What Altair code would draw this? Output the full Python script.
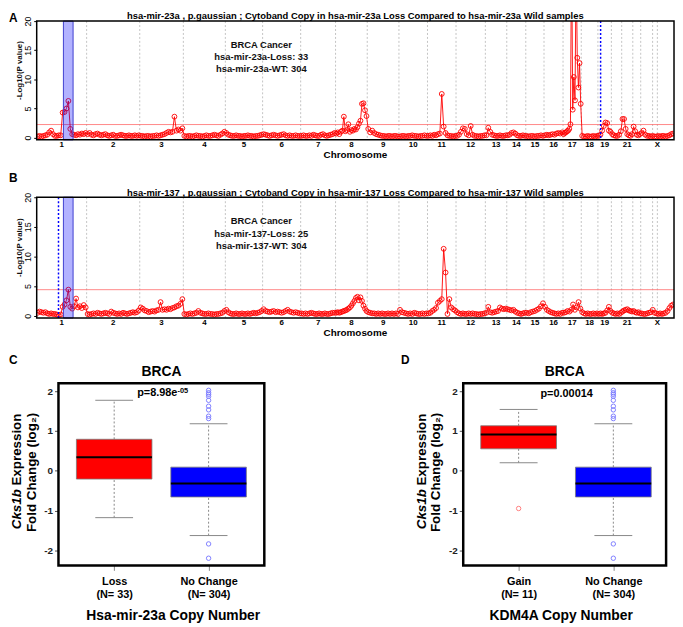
import json
import altair as alt
import pandas as pd

FONT = "Liberation Sans"

# ---------------- genome layout (cytoband index units) ----------------
chrom_names = ["1", "2", "3", "4", "5", "6", "7", "8", "9", "10", "11", "12",
               "13", "14", "15", "16", "17", "18", "19", "20", "21", "22", "X"]
chrom_sizes = [63, 67, 55, 53, 47, 48, 44, 40, 40, 36, 36, 37,
               27, 24, 23, 24, 23, 21, 17, 13, 14, 10, 42]
shown_chroms = [str(i) for i in range(1, 20)] + ["21", "X"]
extra_boundaries = [777, 783]

# ---------------- panel A: -log10(p) per cytoband, by chromosome ----------------
a_1 = [0.2, 0.3, 0.2, 0.3, 0.4, 0.5, 0.9, 1.2, 0.6, 0.3, 0.3, 0.4, 0.4, 4.3, 4.4, 5.0, 6.3, 1.5, 0.6, 0.5, 0.4, 0.6, 0.5, 0.7, 0.6, 0.8]
a_2 = [0.6, 0.8, 0.5, 0.4, 0.6, 0.7, 0.5, 0.4, 0.5, 0.6, 0.4, 0.3, 0.4, 0.5, 0.3, 0.3, 0.4, 0.5, 0.4, 0.3, 0.3, 0.4, 0.3, 0.3, 0.4, 0.3, 0.4]
a_3 = [0.3, 0.3, 0.2, 0.3, 0.3, 0.2, 0.3, 0.3, 0.4, 0.3, 0.4, 0.5, 0.6, 0.8, 1.0, 0.9, 1.0, 3.6, 1.2, 1.4, 1.2, 1.6]
a_4 = [0.3, 0.2, 0.3, 0.3, 0.2, 0.3, 0.4, 0.3, 0.3, 0.2, 0.3, 0.4, 0.3, 0.3, 0.4, 0.5, 0.4, 0.3, 0.5, 0.7, 1.0]
a_5 = [0.8, 0.5, 0.4, 0.3, 0.3, 0.4, 0.3, 0.3, 0.2, 0.3, 0.3, 0.4, 0.3, 0.3, 0.2, 0.3, 0.3, 0.4, 0.5]
a_6 = [0.6, 0.5, 0.4, 0.3, 0.4, 0.5, 0.4, 0.3, 0.4, 0.5, 0.6, 0.4, 0.3, 0.4, 0.3, 0.3, 0.4, 0.3, 0.3]
a_7 = [0.3, 0.4, 0.3, 0.3, 0.4, 0.3, 0.5, 0.4, 0.3, 0.3, 0.5, 0.6, 0.4, 0.3, 0.4, 0.5, 0.6, 0.8]
a_8 = [0.7, 0.9, 0.6, 1.0, 1.2, 3.6, 1.1, 1.3, 2.3, 1.0, 1.3, 1.2, 1.5, 1.4, 1.8, 2.4, 2.9, 5.8, 5.9, 4.7, 3.7]
a_9 = [1.5, 0.9, 1.2, 0.8, 0.6, 0.5, 0.4, 0.3, 0.3, 0.2, 0.3, 0.3, 0.2, 0.3, 0.3, 0.2]
a_10 = [0.2, 0.3, 0.3, 0.2, 0.3, 0.3, 0.4, 0.3, 0.3, 0.2, 0.3, 0.3, 0.4, 0.3]
a_11 = [0.3, 0.4, 0.3, 0.5, 0.4, 0.6, 0.7, 7.5, 1.9, 0.8, 0.4, 0.3, 0.3, 0.2, 0.3]
a_12 = [0.3, 0.5, 1.0, 1.6, 1.5, 0.6, 0.4, 2.0, 0.5, 0.3, 0.3, 0.2, 0.3, 0.3, 0.4]
a_13 = [0.4, 1.7, 1.0, 0.5, 0.4, 0.3, 0.3, 0.4, 0.3, 0.3, 0.4]
a_14 = [0.4, 0.5, 0.8, 0.9, 0.7, 0.4, 0.3, 0.3, 0.4, 0.3]
a_15 = [0.3, 0.2, 0.3, 0.3, 0.2, 0.3, 0.3, 0.4, 0.3]
a_16 = [0.4, 0.5, 0.4, 0.5, 0.6, 0.5, 0.7, 0.8, 0.7, 0.9]
a_17 = [0.6, 0.8, 0.9, 1.1, 1.2, 1.5, 2.3, 34.0, 4.8, 10.4, 6.4, 30.0, 13.7, 8.6, 12.8, 5.8]
a_18 = [0.3, 0.2, 0.2, 0.3, 0.2, 0.2, 0.3, 0.2, 0.3]
a_19 = [0.3, 0.5, 1.2, 2.0, 2.6, 2.5, 1.2, 1.0]
a_20 = [0.6, 0.4, 0.3, 0.3, 0.5, 1.1]
a_21 = [3.2, 3.2, 1.5, 0.6, 0.4, 0.3, 0.6]
a_22 = [1.9, 1.1, 0.5, 0.4, 0.6]
a_X = [0.8, 1.2, 0.5, 0.3, 0.3, 0.2, 0.3, 0.2, 0.2, 0.3, 0.2, 0.3, 0.3, 0.2, 0.3, 0.4, 0.6, 0.7]

# ---------------- panel B ----------------
b_1 = [0.5, 0.7, 0.6, 0.5, 0.6, 0.4, 0.3, 0.4, 0.3, 0.3, 0.2, 0.1, 0.2, 1.5, 1.9, 2.6, 4.4, 1.5, 1.2, 1.6, 2.9, 1.4, 1.6, 1.3, 1.8, 1.4]
b_2 = [0.3, 0.2, 0.3, 0.4, 0.3, 0.5, 0.4, 0.3, 0.4, 0.5, 0.4, 0.3, 0.7, 0.5, 0.4, 0.3, 0.4, 0.3, 0.5, 0.4, 0.3, 0.4, 0.5, 0.6, 0.5, 0.6, 0.9]
b_3 = [1.4, 1.2, 0.9, 0.8, 0.6, 0.7, 0.8, 0.7, 0.9, 1.0, 2.3, 1.0, 1.1, 1.0, 1.2, 1.1, 1.3, 1.4, 1.6, 1.7, 2.0, 2.8]
b_4 = [0.3, 0.2, 0.3, 0.4, 0.3, 0.4, 0.5, 0.8, 0.5, 0.4, 0.3, 0.3, 0.4, 0.3, 0.3, 0.2, 0.3, 0.3, 0.4, 0.5, 0.8]
b_5 = [1.0, 0.6, 0.4, 0.3, 0.3, 0.4, 0.3, 0.3, 0.4, 0.3, 0.3, 0.4, 0.3, 0.4, 0.5, 0.4, 0.5, 0.6, 0.8]
b_6 = [1.1, 0.8, 0.7, 0.6, 0.7, 0.8, 0.6, 0.7, 0.6, 0.5, 0.6, 0.8, 1.0, 0.7, 0.6, 0.5, 0.6, 0.5, 0.4]
b_7 = [0.4, 0.3, 0.4, 0.3, 0.4, 0.5, 0.4, 0.3, 0.3, 0.4, 0.3, 0.3, 0.4, 0.3, 0.3, 0.4, 0.5, 0.5]
b_8 = [0.5, 0.6, 0.5, 0.6, 0.7, 0.8, 0.9, 1.0, 1.2, 1.4, 1.7, 2.1, 2.5, 3.0, 3.2, 2.6, 3.1, 2.5, 1.7, 1.2, 0.8]
b_9 = [0.6, 0.5, 0.4, 0.4, 0.3, 0.4, 0.3, 0.4, 0.3, 0.3, 0.4, 0.3, 0.4, 0.3, 0.4, 0.3]
b_10 = [1.0, 0.6, 0.5, 0.4, 0.3, 0.4, 0.3, 0.5, 0.4, 0.3, 0.3, 0.4, 0.3, 0.4]
b_11 = [0.4, 0.5, 0.8, 1.0, 1.3, 2.2, 2.5, 2.8, 11.3, 7.3, 0.3, 2.8, 1.4, 1.1, 0.9]
b_12 = [0.6, 0.4, 0.3, 0.4, 0.3, 0.3, 0.4, 0.3, 0.4, 0.3, 0.3, 0.2, 0.3, 0.3, 0.4]
b_13 = [0.5, 1.5, 0.6, 0.5, 0.6, 0.7, 0.8, 1.4, 1.2, 1.1, 1.2]
b_14 = [1.1, 1.0, 0.9, 1.0, 0.7, 0.5, 0.4, 0.3, 0.4, 0.5]
b_15 = [0.5, 0.4, 0.6, 0.7, 0.8, 1.0, 1.2, 1.6, 2.1]
b_16 = [1.5, 1.0, 0.8, 0.6, 0.5, 0.4, 0.3, 0.4, 0.3, 0.5]
b_17 = [0.5, 0.6, 0.8, 0.7, 1.0, 1.9, 1.0, 1.4, 2.3, 1.2]
b_18 = [0.6, 0.4, 0.3, 0.4, 0.3, 0.3, 0.4, 0.3, 0.4]
b_19 = [0.3, 0.4, 0.3, 0.4, 0.5, 0.9, 1.5, 0.8]
b_20 = [0.5, 0.4, 0.3, 0.4, 0.3, 0.5]
b_21 = [0.7, 0.9, 1.0, 1.1, 0.9, 0.8, 0.7]
b_22 = [0.8, 0.6, 0.5, 0.6, 0.4]
b_X = [0.4, 0.3, 0.3, 0.4, 0.5, 0.6, 1.0, 0.5, 0.4, 0.3, 0.4, 0.3, 0.4, 0.5, 0.8, 1.3, 1.7, 1.9]

a_segments = [a_1, a_2, a_3, a_4, a_5, a_6, a_7, a_8, a_9, a_10, a_11, a_12,
              a_13, a_14, a_15, a_16, a_17, a_18, a_19, a_20, a_21, a_22, a_X]
b_segments = [b_1, b_2, b_3, b_4, b_5, b_6, b_7, b_8, b_9, b_10, b_11, b_12,
              b_13, b_14, b_15, b_16, b_17, b_18, b_19, b_20, b_21, b_22, b_X]

a_title = "hsa-mir-23a , p.gaussian ; Cytoband Copy in hsa-mir-23a Loss Compared to  hsa-mir-23a Wild samples"
b_title = "hsa-mir-137 , p.gaussian ; Cytoband Copy in hsa-mir-137 Loss Compared to  hsa-mir-137 Wild samples"
a_notes = ["BRCA Cancer", "hsa-mir-23a-Loss: 33", "hsa-mir-23a-WT: 304"]
b_notes = ["BRCA Cancer", "hsa-mir-137-Loss: 25", "hsa-mir-137-WT: 304"]
a_threshold = 2.25
b_threshold = 4.4
a_band = [33.7, 45.9]
b_band = [33.7, 45.9]
a_marker = 711.4
b_marker = 27.5

# ---------------- boxplots ----------------
c_groups = ["Loss", "No Change"]
c_counts = [33, 304]
c_q1 = [-0.21, -0.66]
c_median = [0.34, -0.32]
c_q3 = [0.79, 0.09]
c_low = [-1.18, -1.63]
c_high = [1.77, 1.18]

d_groups = ["Gain", "No Change"]
d_counts = [11, 304]
d_q1 = [0.55, -0.66]
d_median = [0.91, -0.32]
d_q3 = [1.13, 0.09]
d_low = [0.20, -1.63]
d_high = [1.54, 1.18]

nochange_outliers = [2.02, 1.96, 1.92, 1.87, 1.77, 1.62, 1.53, 1.37, 1.31, -1.84, -2.20]
gain_outliers = [-0.95]
loss_outliers = []

box_fills = ["#ff0000", "#0000ff"]
outlier_colors = ["#ff8080", "#8080ff"]

# ---------------- helpers ----------------
starts = [sum(chrom_sizes[:i]) for i in range(len(chrom_sizes))]
TOTAL = sum(chrom_sizes)
one = pd.DataFrame({"k": [0]})
MW = 644


def genome_df(segments):
    rows = []
    for start, size, vals in zip(starts, chrom_sizes, segments):
        n = len(vals)
        for i, v in enumerate(vals):
            rows.append({"pos": start + (i + 0.5) * size / n, "v": v})
    return pd.DataFrame(rows)


def manhattan(segments, thr, band, marker, title, notes, letter, H, HV, letter_y, anchor):
    # H: drawn plot height, HV: view height used by the layout
    xs = alt.Scale(domain=[0, TOTAL], nice=False, zero=False)
    ys = alt.Scale(domain=[-0.38, 20], nice=False, zero=False, range=[H, 0])
    yax = alt.Axis(values=[0, 5, 10, 15, 20], labelAngle=270, labelAlign="center",
                   labelBaseline="bottom", tickSize=3, labelPadding=1, labelFontSize=9,
                   labelFont=FONT, labelColor="black", tickColor="black", domain=False,
                   grid=False, title=None, labelFlush=False, labelOverlap=False)
    X = alt.X("pos:Q", scale=xs, axis=None)
    Y = alt.Y("v:Q", scale=ys, axis=yax)
    df = genome_df(segments)

    bounds_df = pd.DataFrame({"pos": starts[1:] + extra_boundaries})
    grid = alt.Chart(bounds_df).mark_rule(color="#b4b4b4", strokeDash=[2, 2], strokeWidth=0.8).encode(
        x=X, y=alt.value(0), y2=alt.value(H))
    thr_l = alt.Chart(pd.DataFrame({"v": [thr]})).mark_rule(color="#ff6a6a", strokeWidth=0.8).encode(y=Y)
    line = alt.Chart(df).mark_line(color="#ff0000", strokeWidth=0.9, clip=True).encode(x=X, y=Y)
    pts = alt.Chart(df).mark_point(shape="circle", filled=False, color="#ff0000", size=24,
                                   strokeWidth=0.9, opacity=1, clip=True).encode(x=X, y=Y)
    band_l = alt.Chart(pd.DataFrame({"pos": [band[0]], "pos2": [band[1]]})).mark_rect(
        fill="#0000ff", fillOpacity=0.3, stroke="#4040d0", strokeWidth=1).encode(
        x=X, x2="pos2:Q", y=alt.value(0), y2=alt.value(H))
    mark_l = alt.Chart(pd.DataFrame({"pos": [marker]})).mark_rule(
        color="#0000ff", strokeDash=[2, 2], strokeWidth=1.5).encode(x=X, y=alt.value(0), y2=alt.value(H))
    frame = alt.Chart(one).mark_rect(fillOpacity=0, stroke="black", strokeWidth=1.5).encode(
        x=alt.value(0), x2=alt.value(MW), y=alt.value(0), y2=alt.value(H))
    lab_df = pd.DataFrame({
        "pos": [starts[chrom_names.index(c)] + chrom_sizes[chrom_names.index(c)] / 2 for c in shown_chroms],
        "name": shown_chroms})
    labs = alt.Chart(lab_df).mark_text(font=FONT, fontSize=8, fontWeight="bold", baseline="middle",
                                       color="black").encode(x=X, y=alt.value(H + 5), text="name:N")
    note_l = alt.Chart(one).mark_text(font=FONT, fontSize=9.5, fontWeight="bold", baseline="middle",
                                      lineHeight=12.2, color="#111111").encode(
        x=alt.value(227), y=alt.value(24.5), text=alt.value(notes))
    title_l = alt.Chart(one).mark_text(font=FONT, fontSize=9.5, fontWeight="bold", baseline="middle",
                                       color="black").encode(
        x=alt.value(MW / 2), y=alt.value(-4.75), text=alt.value(title))
    letter_l = alt.Chart(one).mark_text(font=FONT, fontSize=12, fontWeight="bold", align="left",
                                        baseline="middle", color="black").encode(
        x=alt.value(-28), y=alt.value(letter_y), text=alt.value(letter))
    xt = alt.Chart(one).mark_text(font=FONT, fontSize=10, fontWeight="bold", baseline="middle",
                                  color="black").encode(
        x=alt.value(MW / 2), y=alt.value(H + 15), text=alt.value("Chromosome"))
    yt = alt.Chart(one).mark_text(font=FONT, fontSize=8, fontWeight="bold", angle=270, baseline="middle",
                                  color="#111111").encode(
        x=alt.value(-17), y=alt.value(H / 2 - 10), text=alt.value("-Log10(P value)"))
    layers = [grid, thr_l, line, pts, band_l, mark_l, frame, labs, note_l, title_l, letter_l, xt, yt]
    if anchor:
        layers.append(alt.Chart(one).mark_rule(opacity=0).encode(
            x=alt.value(-29), y=alt.value(-9.5), y2=alt.value(-8)))
    return alt.layer(*layers).properties(width=MW, height=HV)


def boxpanel(groups, counts, q1, med, q3, lo, hi, outliers_by_group, W, dom,
             xtitle, xtitle_x, letter, letter_x, ptexts):
    H = 184
    xs = alt.Scale(domain=dom, nice=False, zero=False)
    ys = alt.Scale(domain=[-2.38, 2.197], nice=False, zero=False)
    lab_expr = ("datum.value == 1 ? " + json.dumps([groups[0], "(N= %d)" % counts[0]]) +
                " : " + json.dumps([groups[1], "(N= %d)" % counts[1]]))
    xax = alt.Axis(values=[1, 2], labelExpr=lab_expr, tickSize=5, tickColor="#888888",
                   labelPadding=5, labelFontSize=11, labelFontWeight="bold", labelFont=FONT,
                   labelColor="black", labelLineHeight=13, domain=False, grid=False, title=None,
                   labelOverlap=False, labelFlush=False)
    yax = alt.Axis(values=[-2, -1, 0, 1, 2], labelExpr="'' + datum.value", tickSize=4,
                   tickColor="#555555", labelPadding=2, labelFontSize=10, labelFontWeight="bold",
                   labelFont=FONT, labelColor="#222222", domain=False, grid=False, title=None,
                   labelOverlap=False, labelFlush=False)
    pos = [1, 2]
    bdf = pd.DataFrame({
        "pos": pos, "x0": [p - 0.4 for p in pos], "x1": [p + 0.4 for p in pos],
        "c0": [p - 0.2 for p in pos], "c1": [p + 0.2 for p in pos],
        "q1": q1, "med": med, "q3": q3, "lo": lo, "hi": hi, "fill": box_fills})
    orows = []
    for p, vals, col in zip(pos, outliers_by_group, outlier_colors):
        for v in vals:
            orows.append({"pos": p, "v": v, "col": col})
    odf = pd.DataFrame(orows)

    def X(f):
        return alt.X(f, scale=xs, axis=xax)

    def Y(f):
        return alt.Y(f, scale=ys, axis=yax)

    base = alt.Chart(bdf)
    wu = base.mark_rule(color="#888888", strokeDash=[2, 2], strokeWidth=1).encode(x=X("pos:Q"), y=Y("q3:Q"), y2="hi:Q")
    wl = base.mark_rule(color="#888888", strokeDash=[2, 2], strokeWidth=1).encode(x=X("pos:Q"), y=Y("lo:Q"), y2="q1:Q")
    cu = base.mark_rule(color="#888888", strokeWidth=1).encode(x=X("c0:Q"), x2="c1:Q", y=Y("hi:Q"))
    cl = base.mark_rule(color="#888888", strokeWidth=1).encode(x=X("c0:Q"), x2="c1:Q", y=Y("lo:Q"))
    box = base.mark_rect(stroke="#7a7a7a", strokeWidth=0.8).encode(
        x=X("x0:Q"), x2="x1:Q", y=Y("q1:Q"), y2="q3:Q", fill=alt.Fill("fill:N", scale=None))
    medl = base.mark_rule(color="black", strokeWidth=2).encode(x=X("x0:Q"), x2="x1:Q", y=Y("med:Q"))
    outl = alt.Chart(odf).mark_point(shape="circle", filled=False, size=20, strokeWidth=1, opacity=1).encode(
        x=X("pos:Q"), y=Y("v:Q"), stroke=alt.Stroke("col:N", scale=None))
    frame = alt.Chart(one).mark_rect(fillOpacity=0, stroke="black", strokeWidth=2.5).encode(
        x=alt.value(0), x2=alt.value(W), y=alt.value(0), y2=alt.value(H))

    def txt(text, x, y, size, **kw):
        return alt.Chart(one).mark_text(font=FONT, fontSize=size, fontWeight="bold", color="black", **kw).encode(
            x=alt.value(x), y=alt.value(y), text=alt.value(text))

    layers = [wu, wl, cu, cl, box, medl, outl, frame,
              txt("BRCA", W / 2, -11, 14, baseline="middle"),
              txt(xtitle, xtitle_x, 235, 14, baseline="middle"),
              txt(letter, letter_x, -24, 12, align="left", baseline="middle"),
              txt("Cks1b", -42, 107, 13.5, angle=270, align="right", baseline="middle", fontStyle="italic"),
              txt("Expression", -42, 103.3, 13.5, angle=270, align="left", baseline="middle"),
              txt("Fold Change (log\u2082)", -27, 90, 13.5, angle=270, align="center", baseline="middle")]
    for t in ptexts:
        layers.append(txt(t[0], t[1], t[2], t[3], align=t[4], baseline=t[5]))
    return alt.layer(*layers).properties(width=W, height=H)


A = manhattan(a_segments, a_threshold, a_band, a_marker, a_title, a_notes, "A", 120, 120, -3.5, True)
B = manhattan(b_segments, b_threshold, b_band, b_marker, b_title, b_notes, "B", 122, 130, -19, False)

C = boxpanel(c_groups, c_counts, c_q1, c_median, c_q3, c_low, c_high,
             [loss_outliers, nochange_outliers], 208, [0.41, 2.59],
             "Hsa-mir-23a Copy Number", 116, "C", -50,
             [("p=8.98e", 120.2, 13.3, 11, "right", "alphabetic"),
              ("-05", 120.2, 9.3, 7.5, "left", "alphabetic")])
D = boxpanel(d_groups, d_counts, d_q1, d_median, d_q3, d_low, d_high,
             [gain_outliers, nochange_outliers], 205, [0.415, 2.557],
             "KDM4A Copy Number", 99, "D", -63,
             [("p=0.00014", 104.5, 11, 11, "center", "middle")])

spacer = alt.Chart(one).mark_point(opacity=0).encode(x=alt.value(0), y=alt.value(0)).properties(width=1, height=184)

row = alt.hconcat(spacer, alt.hconcat(C, D, spacing=201, bounds="flush"), spacing=21, bounds="flush")
chart = alt.vconcat(A, B, row, spacing=58, bounds="flush").properties(
    padding=0, background="white").configure_view(stroke=None)

chart.save("out.html", embed_options={"renderer": "svg", "actions": False})
